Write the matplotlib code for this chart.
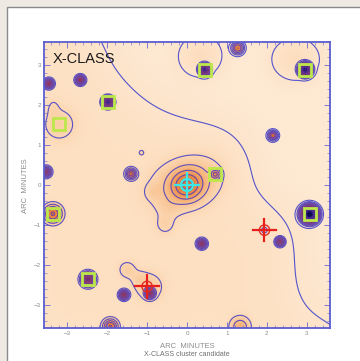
import numpy as np
import matplotlib
matplotlib.use("Agg")
import matplotlib.pyplot as plt
from matplotlib.colors import LinearSegmentedColormap, LogNorm
from matplotlib.patches import Rectangle, Circle
from matplotlib.ticker import MultipleLocator

plt.rcParams["font.family"] = ["Liberation Sans", "DejaVu Sans"]

# ------------------------------------------------------------------
# Source catalogue (arcmin offsets from the cluster centre)
# ------------------------------------------------------------------
# point sources: gaussian PSF amplitude and width
src_x = [0.44, 2.96, -1.98, -3.36, 3.07, -2.48, 0.71, -3.46, -2.67, 1.27,
         2.15, -1.14, -1.40, -3.53, 0.37, 2.33, -1.58, -0.93, -1.92, 1.33, 1.94]
src_y = [2.89, 2.89, 2.08, -0.72, -0.73, -2.36, 0.27, 2.54, 2.63, 3.43,
         1.24, 0.81, 0.28, 0.33, -1.47, -1.42, -2.75, -2.71, -3.55, -3.55, -1.13]
src_amp = [60, 90, 60, 4, 150, 20, 2.5, 15, 15, 4,
           6, 0.3, 5, 12, 15, 12, 15, 15, 4, 1.0, 0.35]
src_sig = [0.06, 0.07, 0.06, 0.12, 0.09, 0.08, 0.07, 0.055, 0.055, 0.08,
           0.06, 0.05, 0.07, 0.06, 0.055, 0.055, 0.055, 0.06, 0.10, 0.15, 0.07]

# extended emission: elliptical gaussians (cluster, lobes, faint blobs)
ext_x = [0.00, 0.00, -0.85, -0.55, -0.45, -3.21, -3.35, -1.50, -1.20, -0.95, 0.34, 2.72]
ext_y = [0.05, 0.00, -0.17, -1.00, -0.55, 1.52, 1.95, -2.12, -2.35, -2.55, 3.25, 3.15]
ext_amp = [0.8, 3.5, 0.2, 0.22, 0.15, 0.3, 0.15, 0.3, 0.18, 0.35, 0.3, 0.3]
ext_sx = [0.55, 0.22, 0.12, 0.17, 0.20, 0.30, 0.10, 0.15, 0.14, 0.24, 0.40, 0.45]
ext_sy = [0.38, 0.20, 0.12, 0.17, 0.20, 0.30, 0.15, 0.15, 0.14, 0.24, 0.38, 0.40]
ext_angle = [20, 20, 0, 0, 0, 0, 0, 0, 0, 0, 0, 0]

# large-scale diffuse background, nodes at integer arcmin (rows y=4..-4, cols x=-4..4)
diffuse_nodes = [-4, -3, -2, -1, 0, 1, 2, 3, 4]
diffuse_weight = [
    [1, 1, 0.35, 0, 0, 0, 0, 0, 0],
    [1, 1, 0.5, 0, 0, 0, 0, 0, 0],
    [1, 1, 1, 0.5, 0.15, 0, 0, 0, 0],
    [1, 1, 1, 1, 1, 1, 0, 0, 0],
    [1, 1, 1, 1, 1, 1, 0, 0, 0],
    [1, 1, 1, 1, 1, 1, 1, 0.3, 0],
    [1, 1, 1, 1, 1, 1, 1, 0.2, 0],
    [1, 1, 1, 1, 1, 1, 1, 0.25, 0.1],
    [1, 1, 1, 1, 1, 1, 1, 1, 1],
]

# detections overlaid on the map
box_x = [0.44, 2.96, -1.98, -3.21, -3.36, 3.07, -2.48, 0.71]
box_y = [2.89, 2.89, 2.08, 1.52, -0.72, -0.73, -2.36, 0.27]
optical_x = [1.94, -1.00]
optical_y = [-1.13, -2.54]
centre_x, centre_y = 0.0, 0.0

levels = [1.125, 1.4, 1.8, 2.5, 3.5, 5, 7.5, 11, 17, 26, 40, 60, 90]
ticks = [-3, -2, -1, 0, 1, 2, 3]

# ------------------------------------------------------------------
# Build the smoothed count map
# ------------------------------------------------------------------
lim = 3.58
n = 420
gx = np.linspace(-lim, lim, n)
X, Y = np.meshgrid(gx, gx)

sig_d = 0.7
diffuse = np.zeros_like(X)
for i, row in enumerate(diffuse_weight):
    ny = diffuse_nodes[::-1][i]
    for j, w in enumerate(row):
        if w:
            nx = diffuse_nodes[j]
            diffuse += w * np.exp(-((X - nx) ** 2 + (Y - ny) ** 2) / (2 * sig_d ** 2))
diffuse /= 2 * np.pi * sig_d ** 2

field = 1.0 + 0.25 * diffuse
for x0, y0, a, s in zip(src_x, src_y, src_amp, src_sig):
    field += a * np.exp(-((X - x0) ** 2 + (Y - y0) ** 2) / (2 * s ** 2))
for x0, y0, a, sx, sy, ang in zip(ext_x, ext_y, ext_amp, ext_sx, ext_sy, ext_angle):
    t = np.deg2rad(ang)
    u = (X - x0) * np.cos(t) + (Y - y0) * np.sin(t)
    v = -(X - x0) * np.sin(t) + (Y - y0) * np.cos(t)
    field += a * np.exp(-0.5 * ((u / sx) ** 2 + (v / sy) ** 2))

cmap = LinearSegmentedColormap.from_list("xmap", [
    (0.00, "#fee9d3"), (0.045, "#fde0c2"), (0.12, "#f8c08c"), (0.20, "#f2a060"),
    (0.30, "#e8803c"), (0.40, "#cc5a3a"), (0.50, "#a43a4c"), (0.62, "#6c2a7a"),
    (0.78, "#362290"), (1.00, "#0a0a4c")])
line_cmap = LinearSegmentedColormap.from_list("lines", ["#5454cc", "#6a46aa", "#7a3a7e", "#4a2a90"])
line_colors = [line_cmap(k / (len(levels) - 1)) for k in range(len(levels))]

# ------------------------------------------------------------------
# Figure
# ------------------------------------------------------------------
fig = plt.figure(figsize=(3.6, 3.61), dpi=100)
fig.patch.set_facecolor("#efe9e3")
fig.patches.append(Rectangle((7 / 360, -0.1), 1.2, 1.1 - 7 / 361, transform=fig.transFigure,
                             facecolor="white", edgecolor="#8a8a8a", linewidth=1.0, zorder=-1))

ax = fig.add_axes([44 / 360, 33 / 361, 286 / 360, 286 / 361])
ax.imshow(field, extent=[-lim, lim, -lim, lim], origin="lower", cmap=cmap,
          norm=LogNorm(vmin=1.0, vmax=150), interpolation="bilinear")
ax.contour(X, Y, field, levels=levels, colors=line_colors, linewidths=0.8)

for bx, by in zip(box_x, box_y):
    ax.add_patch(Rectangle((bx - 0.15, by - 0.15), 0.3, 0.3, fill=False,
                           edgecolor="#bde84a", linewidth=2.0, zorder=4))

for ox, oy in zip(optical_x, optical_y):
    ax.add_patch(Circle((ox, oy), 0.13, fill=False, edgecolor="#e0302a", linewidth=1.0, zorder=5))
    ax.plot([ox - 0.3, ox + 0.3], [oy, oy], color="#e8201c", linewidth=1.6, zorder=5)
    ax.plot([ox, ox], [oy - 0.28, oy + 0.28], color="#e8201c", linewidth=1.6, zorder=5)

ax.add_patch(Circle((centre_x, centre_y), 0.15, fill=False, edgecolor="#3ee6e6", linewidth=1.6, zorder=6))
ax.plot([centre_x - 0.3, centre_x + 0.3], [centre_y, centre_y], color="#3ee6e6", linewidth=1.6, zorder=6)
ax.plot([centre_x, centre_x], [centre_y - 0.3, centre_y + 0.3], color="#3ee6e6", linewidth=1.6, zorder=6)

ax.text(0.031, 0.94, "X-CLASS", transform=ax.transAxes, fontsize=10.5,
        color="#1a1a1a", va="center", ha="left", zorder=7)

ax.set_xlim(-lim, lim)
ax.set_ylim(-lim, lim)
ax.set_xticks(ticks)
ax.set_yticks(ticks)
ax.xaxis.set_minor_locator(MultipleLocator(0.2))
ax.yaxis.set_minor_locator(MultipleLocator(0.2))
ax.tick_params(which="both", direction="in", top=True, right=True, color="#7a7ad0",
               labelsize=4.5, labelcolor="#8c8c8c", pad=2)
ax.tick_params(which="major", length=4, width=0.7)
ax.tick_params(which="minor", length=2, width=0.5)
for sp in ax.spines.values():
    sp.set_color("#5c5cd0")
    sp.set_linewidth(1.3)

fig.text(187 / 360, 1 - 347 / 361, "ARC  MINUTES", ha="center", va="center",
         fontsize=5.5, color="#8c8c8c")
fig.text(187 / 360, 1 - 354 / 361, "X-CLASS cluster candidate", ha="center", va="center",
         fontsize=5, color="#707070")
fig.text(26 / 360, 1 - 186 / 361, "ARC  MINUTES", ha="center", va="center",
         rotation=90, fontsize=5.5, color="#8c8c8c")

fig.savefig("out.png", dpi=100, facecolor=fig.get_facecolor())
